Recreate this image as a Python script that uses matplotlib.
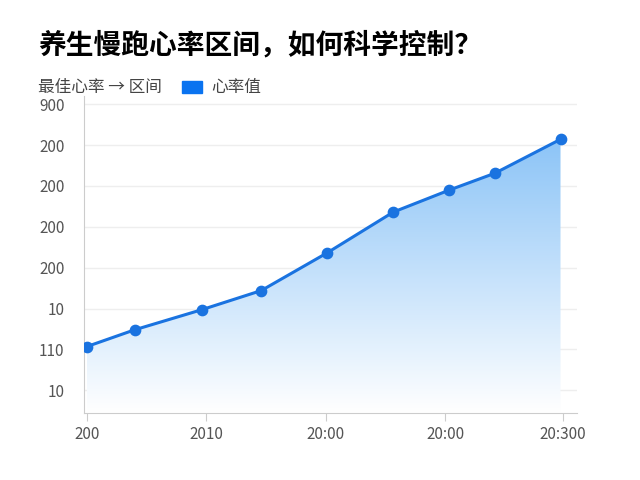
import matplotlib
matplotlib.use("Agg")
import matplotlib.pyplot as plt
import numpy as np
from matplotlib.patches import Rectangle
from matplotlib.colors import LinearSegmentedColormap
plt.rcParams['font.family'] = ['Noto Sans CJK SC', 'DejaVu Sans']

x_vals = [0.0, 0.8, 1.92, 2.92, 4.02, 5.13, 6.07, 6.83, 7.93]
y_vals = [1.07, 1.48, 1.97, 2.44, 3.36, 4.36, 4.90, 5.31, 6.14]
y_ticks = [0, 1, 2, 3, 4, 5, 6, 7]
y_labels = ["10", "110", "10", "200", "200", "200", "200", "900"]
x_ticks = [0, 2, 4, 6, 7.97]
x_labels = ["200", "2010", "20:00", "20:00", "20:300"]
title = "养生慢跑心率区间，如何科学控制？"
legend_left = "最佳心率 → 区间"
legend_right = "心率值"

fig = plt.figure(figsize=(6.4, 4.8), dpi=100)
ax = fig.add_axes([0.131, 0.14, 0.77, 0.66])
ax.set_xlim(-0.05, 8.2)
ax.set_ylim(-0.55, 7.2)

xs = np.array(x_vals); ys = np.array(y_vals)
grad = np.linspace(0, 1, 256).reshape(-1, 1)
cmap = LinearSegmentedColormap.from_list("g", ["#ffffff", "#8cc4f7"])
im = ax.imshow(grad, extent=[xs[0], xs[-1], -0.55, ys.max()], origin="lower",
               aspect="auto", cmap=cmap, zorder=1)
poly = ax.fill_between(xs, ys, -0.55, color="none")
im.set_clip_path(poly.get_paths()[0], transform=ax.transData)
ax.plot(xs, ys, color="#1a73e0", lw=2.2, zorder=3)
ax.scatter(xs, ys, s=55, color="#1a73e0", zorder=4)

ax.set_yticks(y_ticks); ax.set_yticklabels(y_labels)
ax.set_xticks(x_ticks); ax.set_xticklabels(x_labels)
ax.tick_params(axis='y', length=0, labelsize=11, colors="#555555", pad=14)
ax.tick_params(axis='x', length=6, labelsize=11, colors="#555555", color="#cccccc")
ax.grid(axis='y', color="#eeeeee", lw=1)
for s in ["top", "right"]:
    ax.spines[s].set_visible(False)
for s in ["left", "bottom"]:
    ax.spines[s].set_color("#cccccc")
ax.set_axisbelow(True)

fig.text(0.06, 0.905, title, fontsize=20, fontweight="bold", va="center")
fig.text(0.06, 0.818, legend_left, fontsize=12, color="#444444", va="center")
fig.patches.append(Rectangle((0.285, 0.806), 0.03, 0.026, transform=fig.transFigure,
                             color="#0a73f0"))
fig.text(0.33, 0.818, legend_right, fontsize=12, color="#444444", va="center")
fig.savefig("out.png", dpi=100)
